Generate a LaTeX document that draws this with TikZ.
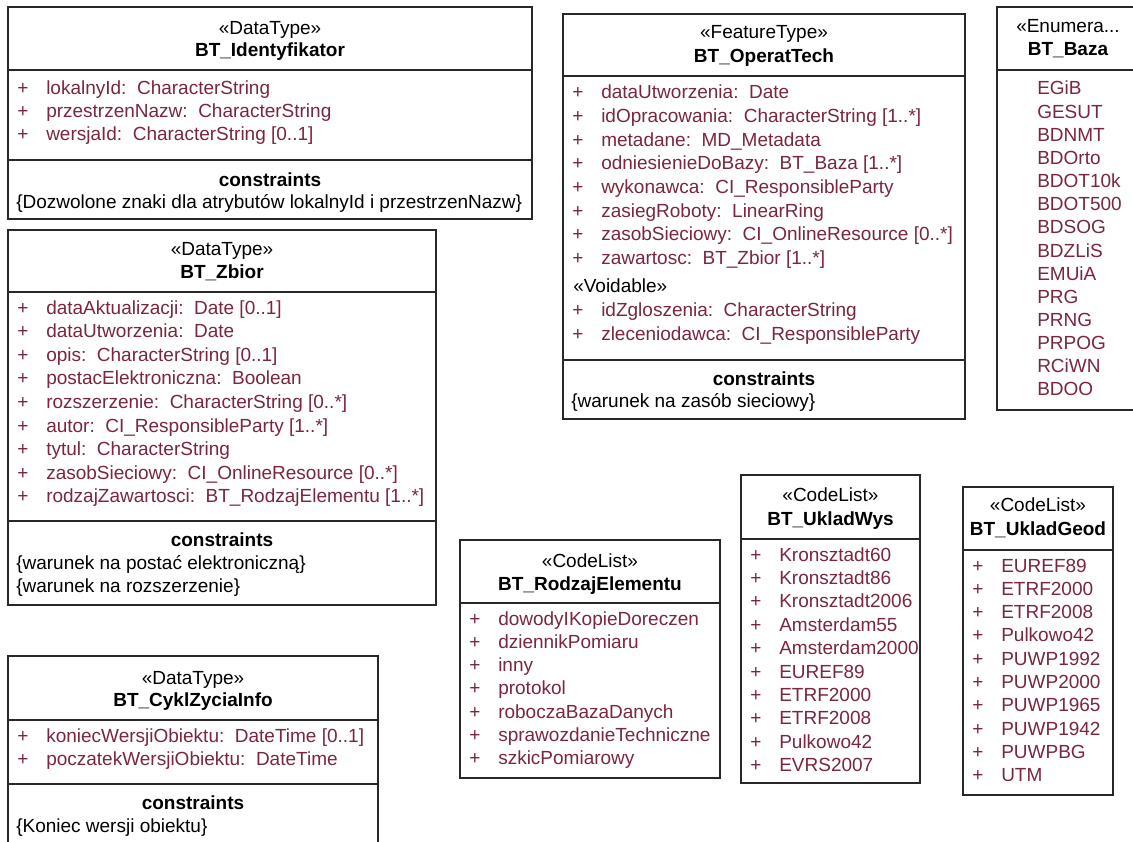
\documentclass[tikz,border=0pt]{standalone}
\usepackage{fontspec}
\setmainfont{Liberation Sans}
\definecolor{umlred}{RGB}{122,38,60}
\definecolor{umlline}{RGB}{40,40,40}
\newcommand{\umlfont}{\fontsize{14.25pt}{17pt}\selectfont}
\newcommand{\plus}{\makebox[21.75pt][l]{+}}

\begin{document}
\begin{tikzpicture}[
    x=0.75pt,y=-0.75pt,
    font=\umlfont,
    classbox/.style={draw=umlline,line width=1.1pt},
    stereo/.style={anchor=base,inner sep=0pt},
    cname/.style={anchor=base,inner sep=0pt,font=\umlfont\bfseries},
    attr/.style={anchor=base west,inner sep=0pt,text=umlred},
    cnote/.style={anchor=base west,inner sep=0pt}
  ]
  \useasboundingbox (0,0) rectangle (1133,842);

  % BT_Identyfikator
  \draw[classbox] (8,7) rectangle (532,219);
  \draw[classbox] (8,70) -- (532,70) (8,160) -- (532,160);
  \node[stereo] (identS) at (270,35) {«DataType»};
  \node[cname] (identN) at (270,57) {BT\_Identyfikator};
  \foreach \t [count=\i from 0] in {lokalnyId:~~CharacterString,
      przestrzenNazw:~~CharacterString, wersjaId:~~CharacterString [0..1]}
    \node[attr] (identA\i) at ({17},{94+23.5*\i}) {\plus\t};
  \node[stereo,font=\umlfont\bfseries] (identC) at (270,186) {constraints};
  \node[cnote] (identK) at (16,209)
    {\{Dozwolone znaki dla atrybutów lokalnyId i przestrzenNazw\}};

  % BT_Zbior
  \draw[classbox] (8,230) rectangle (436,605);
  \draw[classbox] (8,292) -- (436,292) (8,521) -- (436,521);
  \node[stereo] (zbiorS) at (222,255) {«DataType»};
  \node[cname] (zbiorN) at (222,278) {BT\_Zbior};
  \foreach \t [count=\i from 0] in {dataAktualizacji:~~Date [0..1],
      dataUtworzenia:~~Date, opis:~~CharacterString [0..1],
      postacElektroniczna:~~Boolean, rozszerzenie:~~CharacterString [0..*],
      autor:~~CI\_ResponsibleParty [1..*], tytul:~~CharacterString,
      zasobSieciowy:~~CI\_OnlineResource [0..*],
      rodzajZawartosci:~~BT\_RodzajElementu [1..*]}
    \node[attr] (zbiorA\i) at ({17},{314+23.6*\i}) {\plus\t};
  \node[stereo,font=\umlfont\bfseries] (zbiorC) at (222,546) {constraints};
  \node[cnote] (zbiorK1) at (16,569) {\{warunek na postać elektroniczną\}};
  \node[cnote] (zbiorK2) at (16,592.5) {\{warunek na rozszerzenie\}};

  % BT_CyklZyciaInfo
  \draw[classbox] (8,656) rectangle (378,850);
  \draw[classbox] (8,720) -- (378,720) (8,784) -- (378,784);
  \node[stereo] (cyklS) at (193,684) {«DataType»};
  \node[cname] (cyklN) at (193,706) {BT\_CyklZyciaInfo};
  \foreach \t [count=\i from 0] in {koniecWersjiObiektu:~~DateTime [0..1],
      poczatekWersjiObiektu:~~DateTime}
    \node[attr] (cyklA\i) at ({17},{742+23.5*\i}) {\plus\t};
  \node[stereo,font=\umlfont\bfseries] (cyklC) at (193,809) {constraints};
  \node[cnote] (cyklK) at (16,832.5) {\{Koniec wersji obiektu\}};

  % BT_OperatTech
  \draw[classbox] (563,14) rectangle (965,419);
  \draw[classbox] (563,76) -- (965,76) (563,360) -- (965,360);
  \node[stereo] (operatS) at (764,39) {«FeatureType»};
  \node[cname] (operatN) at (764,63) {BT\_OperatTech};
  \foreach \t [count=\i from 0] in {dataUtworzenia:~~Date,
      idOpracowania:~~CharacterString [1..*], metadane:~~MD\_Metadata,
      odniesienieDoBazy:~~BT\_Baza [1..*], wykonawca:~~CI\_ResponsibleParty,
      zasiegRoboty:~~LinearRing, zasobSieciowy:~~CI\_OnlineResource [0..*],
      zawartosc:~~BT\_Zbior [1..*]}
    \node[attr] (operatA\i) at ({572},{99+23.6*\i}) {\plus\t};
  \node[cnote] (operatV) at (573,292.5) {«Voidable»};
  \foreach \t [count=\i from 0] in {idZgloszenia:~~CharacterString,
      zleceniodawca:~~CI\_ResponsibleParty}
    \node[attr] (operatB\i) at ({572},{316.5+23.5*\i}) {\plus\t};
  \node[stereo,font=\umlfont\bfseries] (operatC) at (764,385) {constraints};
  \node[cnote] (operatK) at (571,407.5) {\{warunek na zasób sieciowy\}};

  % BT_Baza
  \draw[classbox] (997,7) rectangle (1139,410);
  \draw[classbox] (997,70) -- (1139,70);
  \node[stereo] (bazaS) at (1068,33) {«Enumera...};
  \node[cname] (bazaN) at (1068,56) {BT\_Baza};
  \foreach \t [count=\i from 0] in {EGiB, GESUT, BDNMT, BDOrto, BDOT10k,
      BDOT500, BDSOG, BDZLiS, EMUiA, PRG, PRNG, PRPOG, RCiWN, BDOO}
    \node[attr] (bazaA\i) at ({1037},{95+23.15*\i}) {\t};

  % BT_RodzajElementu
  \draw[classbox] (460,540) rectangle (720,778);
  \draw[classbox] (460,603) -- (720,603);
  \node[stereo] (rodzajS) at (590,567) {«CodeList»};
  \node[cname] (rodzajN) at (590,590) {BT\_RodzajElementu};
  \foreach \t [count=\i from 0] in {dowodyIKopieDoreczen, dziennikPomiaru,
      inny, protokol, roboczaBazaDanych, sprawozdanieTechniczne,
      szkicPomiarowy}
    \node[attr] (rodzajA\i) at ({469},{625+23.3*\i}) {\plus\t};

  % BT_UkladWys
  \draw[classbox] (741,475) rectangle (920,783);
  \draw[classbox] (741,539) -- (920,539);
  \node[stereo] (wysS) at (830.5,501) {«CodeList»};
  \node[cname] (wysN) at (830.5,525) {BT\_UkladWys};
  \foreach \t [count=\i from 0] in {Kronsztadt60, Kronsztadt86,
      Kronsztadt2006, Amsterdam55, Amsterdam2000, EUREF89, ETRF2000,
      ETRF2008, Pulkowo42, EVRS2007}
    \node[attr] (wysA\i) at ({750},{561+23.4*\i}) {\plus\t};

  % BT_UkladGeod
  \draw[classbox] (963,487) rectangle (1113,795);
  \draw[classbox] (963,550) -- (1113,550);
  \node[stereo] (geodS) at (1038,511) {«CodeList»};
  \node[cname] (geodN) at (1038,535) {BT\_UkladGeod};
  \foreach \t [count=\i from 0] in {EUREF89, ETRF2000, ETRF2008, Pulkowo42,
      PUWP1992, PUWP2000, PUWP1965, PUWP1942, PUWPBG, UTM}
    \node[attr] (geodA\i) at ({972},{572+23.3*\i}) {\plus\t};
\end{tikzpicture}
\end{document}
